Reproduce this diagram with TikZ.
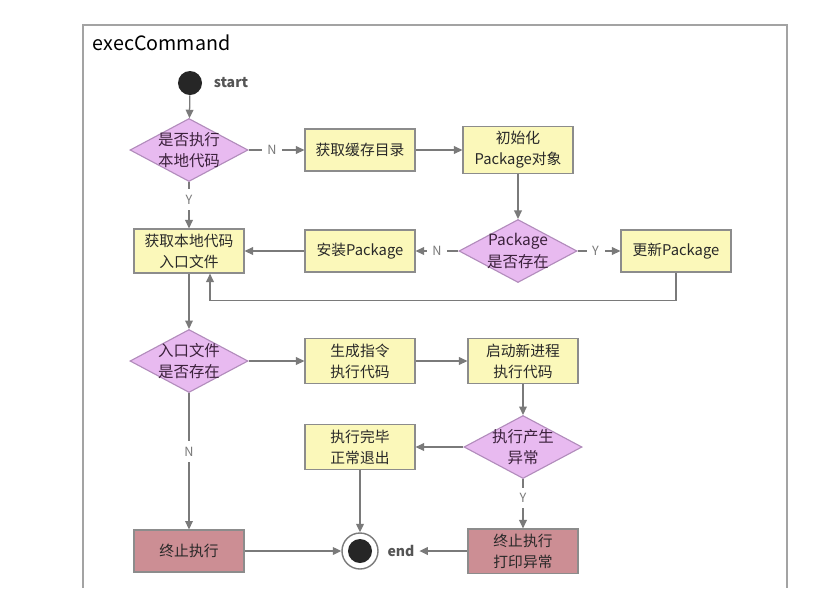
\documentclass[tikz,border=0pt]{standalone}
\usepackage{fontspec}
\setmainfont{Noto Sans CJK SC}
\usetikzlibrary{shapes.geometric,arrows.meta}

\definecolor{boxyellow}{RGB}{251,248,186}
\definecolor{boxborder}{RGB}{140,140,140}
\definecolor{decfill}{RGB}{232,186,240}
\definecolor{decborder}{RGB}{178,140,188}
\definecolor{stopfill}{RGB}{204,142,148}
\definecolor{linegray}{RGB}{122,122,122}
\definecolor{txtgray}{RGB}{85,85,85}
\definecolor{dottext}{RGB}{40,40,40}

\begin{document}
\begin{tikzpicture}[x=0.025cm, y=-0.025cm,
    font=\fontsize{10.5}{15}\selectfont,
    stepbox/.style={draw=boxborder, line width=0.8pt, fill=boxyellow, minimum width=2.75cm, minimum height=1.05cm, align=center, text=dottext},
    stopbox/.style={stepbox, fill=stopfill},
    decision/.style={diamond, draw=decborder, line width=0.8pt, fill=decfill, minimum width=2.95cm, minimum height=1.575cm, inner sep=0pt},
    dectext/.style={align=center, text=dottext!80!violet, inner sep=0pt, font=\fontsize{11}{15}\selectfont},
    flow/.style={draw=linegray, line width=0.9pt, -{Triangle[length=6pt, width=5.5pt]}},
    yn/.style={fill=white, inner sep=4pt, text=linegray, font=\fontsize{9}{10}\selectfont},
    dot/.style={circle, fill=black!85, minimum size=0.6cm, inner sep=0pt},
    tag/.style={text=txtgray, font=\fontsize{10}{12}\selectfont\bfseries}]
    \useasboundingbox (0,0) rectangle (817,588);
    % Rahmen
    \draw[boxborder!80, line width=0.8pt] (83,588) -- (83,25) -- (787,25) -- (787,588);
    \node[anchor=west, font=\fontsize{14}{16}\selectfont] (title) at (88,43) {execCommand};
    % Start
    \node[dot] (start) at (190,83) {};
    \node[tag] (startlbl) at (231,83) {start};
    % Zeile 1
    \node[decision] (local) at (189,150) {};
    \node[dectext] (localtxt) at (local) {是否执行\\本地代码};
    \node[stepbox] (cache) at (360,150) {获取缓存目录};
    \node[stepbox] (init) at (518,150) {初始化\\Package对象};
    % Zeile 2
    \node[stepbox] (entry) at (189,251) {获取本地代码\\入口文件};
    \node[stepbox] (install) at (360,251) {安装Package};
    \node[decision] (pkg) at (518,251) {};
    \node[dectext] (pkgtxt) at (pkg) {Package\\是否存在};
    \node[stepbox] (update) at (676,251) {更新Package};
    % Zeile 3
    \node[decision] (exists) at (189,361) {};
    \node[dectext] (existstxt) at (exists) {入口文件\\是否存在};
    \node[stepbox] (gen) at (360,361) {生成指令\\执行代码};
    \node[stepbox] (spawn) at (523,361) {启动新进程\\执行代码};
    % Zeile 4
    \node[stepbox] (done) at (360,447) {执行完毕\\正常退出};
    \node[decision] (fail) at (523,447) {};
    \node[dectext] (failtxt) at (fail) {执行产生\\异常};
    % Ende
    \node[stopbox] (stop) at (189,551) {终止执行};
    \node[circle, draw=linegray, line width=1pt, fill=white, minimum size=0.9cm] (end) at (360,551) {};
    \node[dot] (endin) at (end) {};
    \node[tag] (endlbl) at (401,551) {end};
    \node[stopbox] (error) at (523,551) {终止执行\\打印异常};
    % Verbindungen
    \draw[flow] (start) -- (local);
    \draw[flow] (local) -- node[yn, pos=0.42] {N} (cache);
    \draw[flow] (local) -- node[yn, pos=0.38] {Y} (entry);
    \draw[flow] (cache) -- (init);
    \draw[flow] (init) -- (pkg);
    \draw[flow] (pkg) -- node[yn, pos=0.5] {N} (install);
    \draw[flow] (pkg) -- node[yn, pos=0.42] {Y} (update);
    \draw[flow] (install) -- (entry);
    \draw[flow] (update.south) -- ++(0,28) -| ([xshift=0.525cm]entry.south);
    \draw[flow] (entry) -- (exists);
    \draw[flow] (exists) -- (gen);
    \draw[flow] (exists) -- node[yn, pos=0.43] {N} (stop);
    \draw[flow] (gen) -- (spawn);
    \draw[flow] (spawn) -- (fail);
    \draw[flow] (fail) -- (done);
    \draw[flow] (fail) -- node[yn, pos=0.38] {Y} (error);
    \draw[flow] (done) -- (end);
    \draw[flow] (stop) -- (end);
    \draw[flow] (error) -- (endlbl);
\end{tikzpicture}
\end{document}
